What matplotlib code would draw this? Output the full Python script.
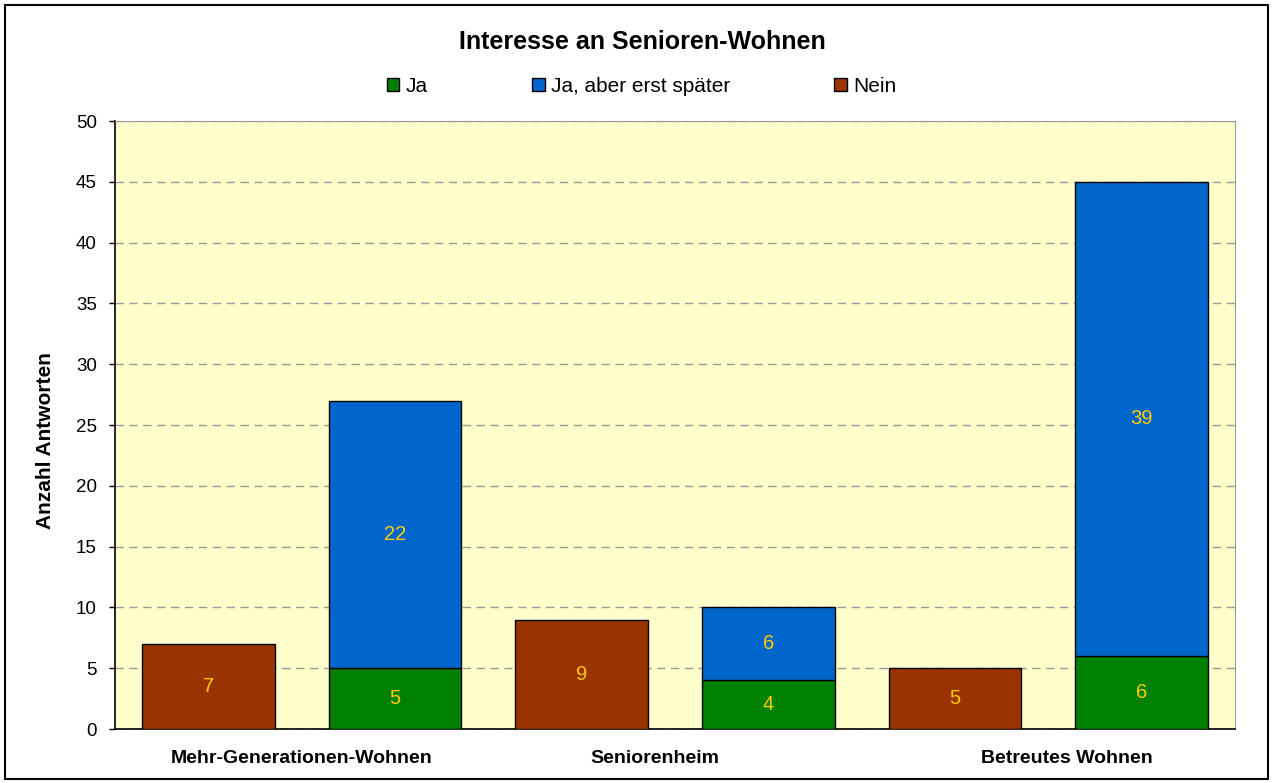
import matplotlib.pyplot as plt
import matplotlib.patches as mpatches
import numpy as np

plt.rcParams['font.family'] = ['Liberation Sans', 'DejaVu Sans']

# Umfragedaten
gruppen = ['Mehr-Generationen-Wohnen', 'Seniorenheim', 'Betreutes Wohnen']
ja = [5, 4, 6]
ja_spaeter = [22, 6, 39]
nein = [7, 9, 5]

c_ja = '#008000'
c_spaeter = '#0066CC'
c_nein = '#993300'
c_label = '#FFCC00'

fig = plt.figure(figsize=(12.73, 7.83), dpi=100)
ax = fig.add_axes([115/1273, 1 - 729/783, 1120/1273, 608/783])
ax.set_facecolor('#FFFFCC')

# je Gruppe: Nein-Balken links, gestapelt Ja / Ja später rechts
x_nein = np.arange(len(gruppen)) * 2
x_ja = x_nein + 1
w = 0.712

b_ja = ax.bar(x_ja, ja, w, color=c_ja, edgecolor='black', linewidth=1, label='Ja', zorder=3)
b_sp = ax.bar(x_ja, ja_spaeter, w, bottom=ja, color=c_spaeter, edgecolor='black',
              linewidth=1, label='Ja, aber erst später', zorder=3)
b_ne = ax.bar(x_nein, nein, w, color=c_nein, edgecolor='black', linewidth=1,
              label='Nein', zorder=3)

for bars in (b_ja, b_sp, b_ne):
    ax.bar_label(bars, label_type='center', color=c_label, fontsize=14.5)

ax.set_xlim(-0.5, 5.5)
ax.set_ylim(0, 50)
ax.set_yticks(range(0, 51, 5))
ax.tick_params(axis='y', labelsize=13.5, length=4, width=1, pad=9)
ax.yaxis.grid(True, linestyle=(0, (6, 4)), color='#999999', linewidth=1, zorder=0)
ax.set_axisbelow(True)

# Kategorienbeschriftung
ax.set_xticks([0.50, 2.39, 4.60])
ax.set_xticklabels(gruppen, fontsize=14, fontweight='bold')
ax.tick_params(axis='x', length=0, pad=15)

for s in ('top', 'right'):
    ax.spines[s].set_color('#999999')
for s in ('left', 'bottom'):
    ax.spines[s].set_color('black')
    ax.spines[s].set_linewidth(1.2)

ax.set_ylabel('Anzahl Antworten', fontsize=15, fontweight='bold')
ax.yaxis.set_label_coords(-0.054, 0.475)

fig.text(0.505, 1 - 42/783, 'Interesse an Senioren-Wohnen', ha='center', va='center',
         fontsize=18, fontweight='bold')

fig.legend(handles=[b_ja, b_sp, b_ne], loc='center', bbox_to_anchor=(0.504, 1 - 86/783),
           ncol=3, frameon=False, fontsize=15, handlelength=0.6, handleheight=0.6,
           handletextpad=0.3, columnspacing=5.0)

# Rahmen um die ganze Grafik
fig.patches.append(mpatches.Rectangle((5/1273, 4/783), 1263/1273, 774/783,
                                      transform=fig.transFigure, fill=False,
                                      edgecolor='black', linewidth=1.5))

fig.savefig('out.png', dpi=100)
